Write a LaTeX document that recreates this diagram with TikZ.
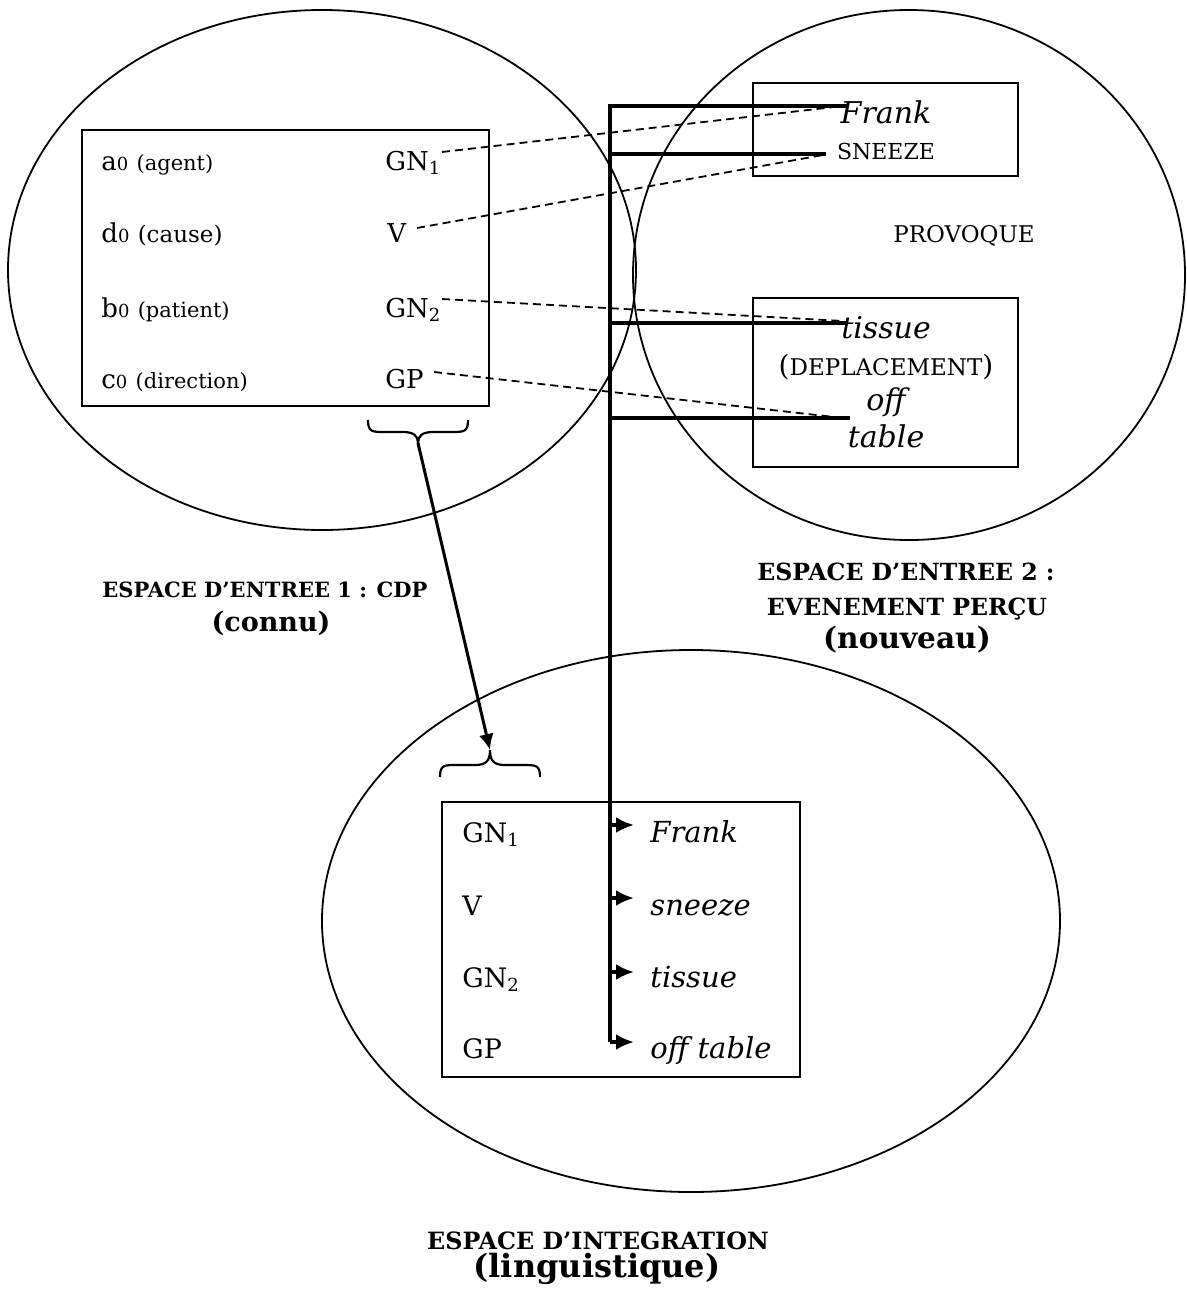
\documentclass[tikz,border=0pt]{standalone}
\usepackage{fontspec}
\setmainfont{DejaVu Serif}
\usetikzlibrary{arrows.meta}
\newcommand\oz{{\fontsize{9}{9}\selectfont 0}}
\newcommand\subn[1]{\raisebox{-0.3ex}{\fontsize{9}{9}\selectfont #1}}
\begin{document}
\begin{tikzpicture}[x=0.5pt,y=-0.5pt,
  txt/.style={inner sep=0pt, anchor=base west},
  ctr/.style={inner sep=0pt, anchor=base},
  ring/.style={line width=0.9pt},
  frame/.style={line width=1pt},
  dsh/.style={line width=0.9pt, dash pattern=on 4pt off 2.5pt},
  thk/.style={line width=1.7pt, line join=miter},
  tipa/.style={-{Latex[length=9pt,width=8pt]}},
  bracel/.style={line width=1.1pt},
  mainf/.style={font=\fontsize{13}{15}\selectfont},
  botf/.style={font=\fontsize{13.4}{15}\selectfont},
  botit/.style={font=\fontsize{14.5}{16}\selectfont\itshape},
  rit/.style={font=\fontsize{15}{17}\selectfont\itshape},
  capsf/.style={font=\fontsize{11}{13}\selectfont},
  lab/.style={font=\bfseries\fontsize{10.5}{12}\selectfont},
  labbig/.style={font=\bfseries\fontsize{13.5}{15}\selectfont},
  labb/.style={font=\bfseries\fontsize{11.8}{13}\selectfont},
  labbbig/.style={font=\bfseries\fontsize{14.8}{16}\selectfont},
  labc/.style={font=\bfseries\fontsize{11.9}{13}\selectfont},
  labcbig/.style={font=\bfseries\fontsize{16}{18}\selectfont}]
\useasboundingbox (0,0) rectangle (1187,1290);

% circles
\draw[ring] (322,270) ellipse [x radius=157pt, y radius=130pt];
\draw[ring] (909,275) ellipse [x radius=138pt, y radius=132.5pt];
\draw[ring] (691,921) ellipse [x radius=184.5pt, y radius=135.5pt];

% boxes
\draw[frame] (82,130) rectangle (489,406);
\draw[frame] (753,83) rectangle (1018,176);
\draw[frame] (753,298) rectangle (1018,467);
\draw[frame] (442,802) rectangle (800,1077);

% left box text
\node[txt,mainf] (a0) at (101,170) {a\oz\ {\fontsize{10.5}{12}\selectfont(agent)}};
\node[txt,mainf] (d0) at (101,242) {d\oz\ {\fontsize{11.5}{13}\selectfont(cause)}};
\node[txt,mainf] (b0) at (101,317) {b\oz\ {\fontsize{10.5}{12}\selectfont(patient)}};
\node[txt,mainf] (c0) at (101,388) {c\oz\ {\fontsize{10.5}{12}\selectfont(direction)}};
\node[txt,mainf] (gn1) at (385,170) {GN\subn{1}};
\node[txt,mainf] (vv) at (387,242) {V};
\node[txt,mainf] (gn2) at (385,317) {GN\subn{2}};
\node[txt,mainf] (gp) at (385,388) {GP};

% right boxes text
\node[ctr,rit] (frank) at (886,123) {Frank};
\node[ctr,capsf] (sneeze) at (886,159) {SNEEZE};
\node[ctr,font=\fontsize{11.5}{13}\selectfont] (provoque) at (964,242) {PROVOQUE};
\node[ctr,rit] (tissue) at (886,338) {tissue};
\node[ctr,font=\fontsize{11.5}{13}\selectfont] (depl) at (886,375) {{\fontsize{14}{16}\selectfont(}DEPLACEMENT{\fontsize{14}{16}\selectfont)}};
\node[ctr,rit] (off) at (886,410) {off};
\node[ctr,rit] (table) at (886,447) {table};

% bottom box text
\node[txt,botf] (bgn1) at (462,842) {GN\subn{1}};
\node[txt,botf] (bv) at (462,915) {V};
\node[txt,botf] (bgn2) at (462,987) {GN\subn{2}};
\node[txt,botf] (bgp) at (462,1058) {GP};
\node[txt,botit] (bfrank) at (650,842) {Frank};
\node[txt,botit] (bsneeze) at (650,915) {sneeze};
\node[txt,botit] (btissue) at (650,987) {tissue};
\node[txt,botit] (boff) at (650,1058) {off table};

% labels
\node[ctr,lab] (l1a) at (265,597) {ESPACE D’ENTREE 1 : CDP};
\node[ctr,labbig] (l1b) at (271,631) {(connu)};
\node[ctr,labb] (l2a) at (906,580) {ESPACE D’ENTREE 2 :};
\node[ctr,labb] (l2b) at (907,615) {EVENEMENT PERÇU};
\node[ctr,labbbig] (l2c) at (907,648) {(nouveau)};
\node[ctr,labc] (l3a) at (598,1249) {ESPACE D’INTEGRATION};
\node[ctr,labcbig] (l3b) at (597,1277) {(linguistique)};

% connector end points
\coordinate (gn1r) at (442,152);
\coordinate (vr) at (417,228);
\coordinate (gn2r) at (442,299);
\coordinate (gpr) at (434,372);
\coordinate (frankl) at (843,106);
\coordinate (sneezel) at (823,155);
\coordinate (tissuel) at (843,321);
\coordinate (offl) at (843,418);

\coordinate (htop) at (610,106);
\coordinate (h1e) at (848,106);
\coordinate (h2s) at (610,154);
\coordinate (h2e) at (826,154);
\coordinate (h3s) at (610,323);
\coordinate (h3e) at (848,323);
\coordinate (h4s) at (610,418);
\coordinate (h4e) at (850,418);
\coordinate (vbot) at (610,1042);
\coordinate (r1s) at (610,825);
\coordinate (r1e) at (634,825);
\coordinate (r2s) at (610,898);
\coordinate (r2e) at (634,898);
\coordinate (r3s) at (610,972);
\coordinate (r3e) at (634,972);
\coordinate (r4e) at (634,1042);

% dashed mappings
\draw[dsh] (gn1r) -- (frankl);
\draw[dsh] (vr) -- (sneezel);
\draw[dsh] (gn2r) -- (tissuel);
\draw[dsh] (gpr) -- (offl);

% thick projection lines
\draw[thk] (h1e) -- (htop) -- (vbot);
\draw[thk,tipa] (vbot) -- (r4e);
\draw[thk] (h2s) -- (h2e);
\draw[thk] (h3s) -- (h3e);
\draw[thk] (h4s) -- (h4e);
\draw[thk,tipa] (r1s) -- (r1e);
\draw[thk,tipa] (r2s) -- (r2e);
\draw[thk,tipa] (r3s) -- (r3e);

% braces
\coordinate (b1tip) at (418,443);
\coordinate (b2tip) at (490,750);
\draw[bracel] (368,420) .. controls (368,432) and (372,432) .. (385,432) -- (403,432)
  .. controls (414,432) and (418,436) .. (b1tip)
  .. controls (418,436) and (422,432) .. (433,432) -- (451,432)
  .. controls (464,432) and (468,432) .. (468,420);
\draw[bracel] (440,777) .. controls (440,765) and (444,765) .. (457,765) -- (475,765)
  .. controls (486,765) and (490,761) .. (b2tip)
  .. controls (490,761) and (494,765) .. (505,765) -- (523,765)
  .. controls (536,765) and (540,765) .. (540,777);
\draw[line width=1.5pt,-{Latex[length=8pt,width=7.5pt]}] (b1tip) -- (b2tip);
\end{tikzpicture}
\end{document}
